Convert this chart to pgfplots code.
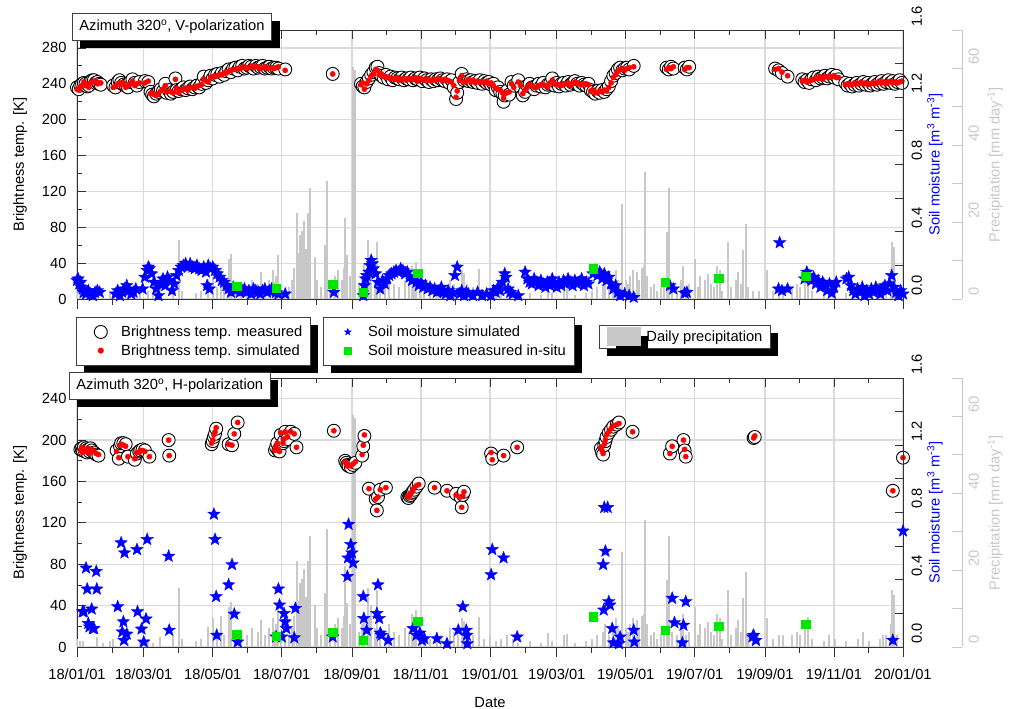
\documentclass[border=0pt]{standalone}
\usepackage{fontspec}
\setmainfont{Liberation Sans}
\usepackage{pgfplots}
\usepackage{pgfplotstable}
\pgfplotsset{compat=1.18}
\usetikzlibrary{shadows}
\definecolor{pgray}{RGB}{200,200,200}
\definecolor{ggrid}{RGB}{218,218,218}
\definecolor{mgreen}{RGB}{0,230,0}
\newcommand\fs{\fontsize{14.7}{17.6}\selectfont}
\tikzset{shad/.style={drop shadow={shadow xshift=8pt, shadow yshift=-8pt, fill=black, opacity=1, draw=none}}}
\pgfdeclareplotmark{fstar}{%
 \pgfpathmoveto{\pgfpointpolar{90}{\pgfplotmarksize}}%
 \pgfpathlineto{\pgfpointpolar{126}{0.42\pgfplotmarksize}}%
 \pgfpathlineto{\pgfpointpolar{162}{\pgfplotmarksize}}%
 \pgfpathlineto{\pgfpointpolar{198}{0.42\pgfplotmarksize}}%
 \pgfpathlineto{\pgfpointpolar{234}{\pgfplotmarksize}}%
 \pgfpathlineto{\pgfpointpolar{270}{0.42\pgfplotmarksize}}%
 \pgfpathlineto{\pgfpointpolar{306}{\pgfplotmarksize}}%
 \pgfpathlineto{\pgfpointpolar{342}{0.42\pgfplotmarksize}}%
 \pgfpathlineto{\pgfpointpolar{18}{\pgfplotmarksize}}%
 \pgfpathlineto{\pgfpointpolar{54}{0.42\pgfplotmarksize}}%
 \pgfpathclose
 \pgfusepathqfillstroke}

\pgfplotstableread{
day p
0 2
3 1.5
5 1.5
18 2.5
23 1
29 1.5
32 2
45 1
56 1.5
63 2
67 1
73 2.5
85 3
90 15.4
93 2
105 1.5
110 2
116 5.2
120 7.5
124 3
127 8
130 3
134 10.4
136 11.6
140 4
145 2
150 3
155 5
160 4
163 7
166 3
170 5
173 7.5
174 4.4
176 6
178 11.4
180 4
184 2
187 3
190 5
192 8
194 22.4
196 12
197 16.7
199 17.8
201 20.3
202 13
204 22.4
206 28.8
210 11
212 5
216 3
219 14
220 13
221 30.6
224 4
228 6
231 7.6
234 5
236 8
237 21.2
239 11.4
241 6
244 60.5
246 59.5
249 4
252 6
254 9
257 15.3
258 8
260 11
263 5
265 14.8
268 4
272 3
276 6
280 4
285 3
290 5
293 4
296 8.5
298 7.5
300 9.5
303 5
307 3
312 2
318 4
322 3
326 2
330 5
333 4
337 3
340 7.5
342 6.8
345 4
350 3
355 7.8
360 2
365 3
370 1.5
375 2
380 3
385 2
390 1
400 1.5
410 1
416 3.6
420 1.5
430 3
433 3.3
440 1
450 1.5
455 2
460 3
465 4
467 6
470 3
474 4
476 7.5
478 5
480 3
482 24.6
485 5
487 4
489 6
491 7.5
495 7
497 5
499 8
501 8.5
502 33
504 6
507 3
510 4
513 2
516 3
519 5
521 17.4
523 28.8
526 4
530 3
534 5
536 8.7
538 3
541 4
546 10.5
549 3
551 6
555 5
558 6.6
560 4
563 3
566 8.6
568 7.5
570 2
575 14.8
578 3
582 5
584 7
587 4
589 12.7
591 19.4
593 3
597 2
603 2
610 7.5
615 2
620 3
624 3
632 3
636 4
639 3
643 5
646 7.8
650 2
660 1.5
665 3
670 2
680 1.5
690 2
695 4
700 1.5
710 2
712 3
715 3
719 6
720 14.8
722 13.5
725 3
}\precip

\pgfplotstableread{
day m s
0 236 234
1.5 234 233
3 238 236
4.5 240 238
6 241 242
7.5 240 238
9 237 239
10.5 238 236
12 243 241
13.5 244 242
15 244 243
16.5 241 243
18 242 240
19.5 240 241
21 239 241
32 238 236
34 236 237
36 242 240
37.5 244 241
39 241 239
41 239 241
43 238 236
45 236 238
47 242 240
49 245 243
51 241 238
53 238 240
55 242 241
60 243 241
63 242 243
65 231 229
66.5 228 230
68 226 228
70 229 227
72 231 229
74 234 232
76 232 234
78 240 238
79 230 231
81 233 232
83 229 231
85 231 230
87 246 245
88 233 235
90 232 230
92 234 233
94 236 234
96 233 235
98 235 233
100 237 236
102 234 236
104 236 235
106 238 237
108 236 238
110 240 239
112 248 245
114 241 243
116 244 242
118 249 247
120 246 248
122 250 248
124 251 249
126 248 250
128 252 250
130 250 252
132 254 252
134 256 254
136 253 255
138 257 256
140 258 256
142 255 257
144 259 257
146 260 258
148 257 259
150 258 257
152 260 258
154 259 260
156 257 258
158 260 259
160 258 259
162 259 257
164 260 258
166 257 259
168 258 257
170 259 258
172 257 258
174 258 257
176 258 258
178 257 259
184 256 255
226 251 251
251 240 239
252.5 237 241
254 236 234
256 242 240
258 246 244
260 250 249
262 253 251
264 258 256
265.5 259 255
267 252 250
269 249 251
271 247 248
273 250 248
275 245 247
277 248 246
279 244 246
281 247 245
283 246 247
285 245 244
287 247 245
289 244 246
291 246 244
293 245 246
295 247 245
297 244 245
299 246 247
301 245 243
303 247 246
305 243 245
307 246 244
309 244 246
311 242 244
313 245 243
315 243 245
317 245 244
319 244 246
321 246 245
323 244 243
325 243 245
327 245 244
329 241 243
331 244 242
333 236 238
335 223 225
336 230 232
338 242 244
340 251 249
342 244 242
344 245 243
346 243 245
348 244 242
350 242 244
352 243 241
354 241 243
356 244 242
358 240 242
360 243 241
362 241 243
364 242 240
366 239 241
368 240 238
370 233 235
372 236 234
374 231 233
376 229 230
377 220 224
378 227 229
380 232 230
382 228 231
384 242 240
386 238 236
390 244 242
392 236 238
394 227 229
396 231 233
398 238 236
400 240 239
402 236 238
404 234 236
406 238 236
408 240 238
410 237 239
412 241 239
414 236 238
416 239 237
418 240 241
420 246 244
422 238 240
424 241 239
426 237 239
428 240 238
430 241 240
432 238 240
434 242 241
436 239 238
438 241 240
440 243 242
442 240 241
444 238 240
446 241 239
448 239 240
450 238 240
452 240 239
454 233 232
456 231 233
458 229 230
460 232 230
462 230 232
464 233 231
466 231 233
468 234 232
470 237 236
472 243 241
474 249 247
476 252 250
478 256 254
480 258 256
482 255 257
484 257 255
486 258 257
488 256 258
492 260 259
521 258 256
523 256 258
525 259 257
527 257 259
537 258 256
539 256 258
541 259 258
617 257 256
620 255 257
623 252 253
628 248 249
641 245 243
643 242 244
645 244 242
647 241 243
649 245 244
651 247 245
653 244 246
655 248 246
657 246 248
659 247 245
661 249 248
663 246 248
665 248 247
667 250 248
669 247 249
671 249 247
673 245 247
679 241 239
681 238 240
683 240 239
685 237 239
687 239 241
689 241 240
691 238 240
693 240 242
695 242 240
697 239 241
699 241 239
701 238 240
703 240 241
705 242 240
707 239 241
709 241 243
711 243 241
713 240 242
715 242 240
717 244 242
719 241 243
721 243 241
723 240 242
725 242 241
727 244 242
729 241 243
}\btV

\pgfplotstableread{
day sm
0 0.11
1 0.12
2 0.09
3 0.10
4 0.07
5 0.06
6 0.04
7 0.05
8 0.03
10 0.05
12 0.03
14 0.02
16 0.04
18 0.05
20 0.04
34 0.03
36 0.05
38 0.02
40 0.04
42 0.06
44 0.08
46 0.05
48 0.03
50 0.04
52 0.06
58 0.06
60 0.13
62 0.17
63 0.19
64 0.18
66 0.15
68 0.10
70 0.06
72 0.02
74 0.09
76 0.12
78 0.08
80 0.13
82 0.11
84 0.05
86 0.09
88 0.14
90 0.17
92 0.19
94 0.20
96 0.21
98 0.19
100 0.21
102 0.19
104 0.18
106 0.20
108 0.18
110 0.17
112 0.19
114 0.16
115 0.08
116 0.20
117 0.06
118 0.18
120 0.19
122 0.17
124 0.15
126 0.13
128 0.11
130 0.10
132 0.08
134 0.06
136 0.04
138 0.07
140 0.05
142 0.06
144 0.04
146 0.05
148 0.06
150 0.04
152 0.05
154 0.03
156 0.06
158 0.05
160 0.04
162 0.03
164 0.05
166 0.06
168 0.04
170 0.05
172 0.06
174 0.05
176 0.04
178 0.03
184 0.03
227 0.04
253 0.02
254 0.08
255 0.12
256 0.14
258 0.16
259 0.20
260 0.23
261 0.21
262 0.18
264 0.15
266 0.10
268 0.06
270 0.11
272 0.09
274 0.12
276 0.14
278 0.15
280 0.16
282 0.17
284 0.16
286 0.18
288 0.17
290 0.15
292 0.16
294 0.13
296 0.11
298 0.12
300 0.10
302 0.08
304 0.10
306 0.07
308 0.08
310 0.06
312 0.07
314 0.05
316 0.06
318 0.04
320 0.05
322 0.07
324 0.04
326 0.03
328 0.05
330 0.02
332 0.04
334 0.14
336 0.19
338 0.03
340 0.05
342 0.02
344 0.04
346 0.03
350 0.02
354 0.04
358 0.02
362 0.03
366 0.02
368 0.05
370 0.04
372 0.07
374 0.05
376 0.10
378 0.15
379 0.13
381 0.06
383 0.04
385 0.03
390 0.02
396 0.16
398 0.12
400 0.10
402 0.09
404 0.12
406 0.10
408 0.08
410 0.11
412 0.09
414 0.07
416 0.10
418 0.08
420 0.12
422 0.09
424 0.07
426 0.10
428 0.08
430 0.11
432 0.09
434 0.12
436 0.10
438 0.08
440 0.11
442 0.09
444 0.10
446 0.12
448 0.08
450 0.10
452 0.09
456 0.15
458 0.17
460 0.14
462 0.16
464 0.12
466 0.15
468 0.11
470 0.13
472 0.09
474 0.06
476 0.08
478 0.04
480 0.02
484 0.03
488 0.02
492 0.01
524 0.08
527 0.06
537 0.035
539 0.04
620 0.06
621 0.335
623 0.05
628 0.06
643 0.12
645 0.16
647 0.14
649 0.11
651 0.13
653 0.09
655 0.11
657 0.07
659 0.10
661 0.08
663 0.05
665 0.09
667 0.035
669 0.07
671 0.10
680 0.12
682 0.13
684 0.08
686 0.05
688 0.03
690 0.06
692 0.04
694 0.07
696 0.02
698 0.05
700 0.03
702 0.06
704 0.04
706 0.07
708 0.05
710 0.03
712 0.06
714 0.08
716 0.05
718 0.09
720 0.14
722 0.07
724 0.04
726 0.02
728 0.05
730 0.03
}\smV

\pgfplotstableread{
day ins
141 0.077
176 0.065
226 0.088
253 0.042
301 0.155
456 0.18
520 0.10
567 0.122
644 0.137
}\insitu

\pgfplotstableread{
day m s
3 191 190
4 192 193
5 190 188
6 193 191
7 189 191
8 192 190
9 188 189
10 191 192
11 189 187
12 192 190
13 190 191
15 188 189
17 186 187
19 185 186
35 190 189
37 182 183
38 194 195
39 197 196
41 197 195
43 196 194
45 184 184
51 181 182
53 187 188
55 189 188
56 190 190
58 191 190
60 190 189
64 184 184
81 200 200
81.5 185 185
119 196 197
120 199 200
121 203 205
122 206 208
123 211 212
134 196 196
137 195 195
139 206 206
142 217 217
175 190 190
176 193 195
177 197 197
178 190 191
179 189 189
180 205 207
182 197 197
183 199 201
184 208 208
186 201 203
189 208 208
192 206 206
194 193 193
227 209 209
237 180 179
238 178 176
239 176 175
240 175 176
242 174 175
244 176 177
246 178 179
252 185 186
253 194 195
254 204 205
258 153 153
264 143 143
265 132 132
266 145 145
268 152 152
273 154 154
292 145 146
293 144 145
294 146 147
295 147 148
296 149 150
297 150 152
298 152 154
300 155 156
302 158 157
316 154 154
327 151 151
335 148 147
339 145 145
340 135 135
341 147 146
342 150 150
366 187 188
367 182 181
377 185 185
389 193 193
463 192 193
464 188 190
465 186 187
466 195 196
467 199 200
468 203 205
470 207 208
472 210 211
474 213 214
477 215 215
479 217 216
491 208 208
524 187 187
526 194 194
536 200 200
537 190 191
538 184 184
598 202 202
599 203 204
721 151 151
730 183 183
}\btH

\pgfplotstableread{
day sm
5 0.21
6 0.21
8 0.47
9 0.345
10 0.14
11 0.12
13 0.226
14 0.11
15 0.11
17 0.45
17.5 0.345
36 0.24
39 0.62
40 0.09
41 0.15
41.5 0.04
42 0.56
44 0.077
53 0.58
53.5 0.21
57 0.107
59 0.03
61 0.167
62 0.64
81 0.54
81.5 0.10
121 0.79
122 0.64
123 0.30
123.5 0.07
134 0.37
137 0.49
139 0.196
142 0.03
176 0.06
178 0.345
179 0.25
181 0.06
183 0.20
184 0.15
185 0.11
192 0.055
193 0.23
226 0.06
239 0.42
239.5 0.53
240 0.73
242 0.61
243 0.56
244 0.50
253 0.30
253.5 0.17
256 0.10
265 0.20
266 0.37
267 0.17
268 0.083
269 0.07
275 0.04
297 0.11
300 0.07
303 0.083
305 0.04
307 0.05
318 0.05
327 0.02
337 0.10
341 0.24
344 0.10
344.5 0.07
345 0.02
366 0.43
367 0.58
377 0.53
389 0.06
465 0.49
465.5 0.22
466 0.83
467 0.57
469 0.83
470 0.27
471 0.25
473 0.11
474 0.025
479 0.02
480 0.06
492 0.10
492.5 0.03
526 0.29
528 0.145
535 0.025
536 0.13
538 0.27
597 0.06
598 0.07
600 0.04
721 0.04
730 0.69
}\smH

\pgfplotsset{
 panel/.style={scale only axis, width=826pt, height=269pt, xmin=0, xmax=730,
   anchor=south west, font=\fs, /pgf/number format/assume math mode=true,
   axis line style={line width=0.8pt, draw=black!80},
   tick style={line width=0.8pt, black!80}},
 majx/.style={xtick={0,59,120,181,243,304,365,424,485,546,608,669,730},
   minor xtick={31,90,151,212,273,334,396,455,516,577,638,699}},
 legbox/.style={legend style={draw=black!75, line width=0.8pt, fill=white, font=\fs, shad,
   inner xsep=6pt, inner ysep=6.5pt, row sep=2.5pt}, legend cell align=left,
   legend image code/.code={\path (0pt,0pt) (36pt,0pt);
     \draw[mark repeat=2,mark phase=2,##1] plot coordinates {(0pt,0pt) (18pt,0pt) (36pt,0pt)};}},
 gridax/.style={panel, majx, xtick pos=top, xticklabels={}, ytick pos=left,
   tick align=inside, major tick length=9pt, minor tick length=5pt,
   grid=major, major grid style={ggrid, line width=1.2pt},
   yticklabel style={xshift=-7pt},
   every axis y label/.style={at={(axis description cs:-0.069,0.5)}, rotate=90, anchor=center},
   ylabel={Brightness temp. [K]}},
 botx/.style={panel, majx, ymin=0, ymax=1, axis y line=none, axis x line*=bottom,
   tick align=outside, major tick length=10pt, minor tick length=6pt,
   xticklabel style={yshift=-8pt}},
 precax/.style={panel, ymin=0, ymax=70, axis x line=none, axis y line*=right,
   ytick={0,20,40,60}, minor ytick={10,30,50,70}, tick align=inside,
   major tick length=10pt, minor tick length=10pt,
   axis line style={pgray, line width=0.8pt}, tick style={pgray, line width=0.8pt},
   yticklabel style={pgray, xshift=3pt, rotate=90, anchor=north west},
   every axis y label/.style={at={(axis description cs:1.04,0.5)}, rotate=90, anchor=center, pgray},
   ylabel={Precipitation [mm day\textsuperscript{-1}]}},
 soilax/.style={panel, ymin=0, ymax=1.6, axis x line=none, axis y line*=right,
   ytick={0,0.4,0.8,1.2,1.6}, minor ytick={0.2,0.6,1.0,1.4}, tick align=inside,
   major tick length=8pt, minor tick length=8pt,
   yticklabel style={xshift=5pt, rotate=90, anchor=north west, /pgf/number format/.cd, fixed, fixed zerofill, precision=1},
   every axis y label/.style={at={(axis description cs:1.0387,0.5)}, rotate=90, anchor=center, blue},
   ylabel={Soil moisture [m\textsuperscript{3} m\textsuperscript{-3}]}},
 circ/.style={only marks, mark=*, mark size=6.5pt, mark options={fill=white, draw=black, line width=0.9pt}},
 rdot/.style={only marks, mark=*, mark size=2.6pt, color=red},
 bstar/.style={only marks, mark=fstar, mark size=6.5pt, color=blue, mark options={line width=0.4pt}},
 gsq/.style={only marks, mark=square*, mark size=4.2pt, color=mgreen},
 bars/.style={ycomb, color=pgray, line width=2pt, mark=none},
}

\begin{document}
\begin{tikzpicture}
\useasboundingbox (0,0) rectangle (1015pt,-709pt);
% ================= TOP PANEL =================
\begin{axis}[gridax, at={(77pt,-299pt)}, ymin=0, ymax=300,
  ytick={0,40,...,280}, minor ytick={20,60,...,260}]
\end{axis}
\begin{axis}[botx, at={(77pt,-299pt)}, xticklabels={}]
\end{axis}
\begin{axis}[panel, at={(77pt,-299pt)}, ymin=0, ymax=70, hide axis, legbox,
  legend style={at={(0.632,0)}, anchor=north west, yshift=-26pt, inner ysep=2pt}]
\addplot[bars, legend image code/.code={\path (0pt,0pt) (37pt,0pt); \fill[pgray] (2pt,-8.5pt) rectangle (34pt,8.5pt);}]
  table[x=day,y=p]{\precip};
\addlegendentry{Daily precipitation}
\end{axis}
\begin{axis}[precax, at={(136pt,-299pt)}]
\end{axis}
\begin{axis}[panel, at={(77pt,-299pt)}, ymin=0, ymax=300, hide axis, legbox,
  legend style={at={(0,0)}, anchor=north west, xshift=-1pt, yshift=-18pt}]
\addplot[circ] table[x=day,y=m]{\btV};
\addlegendentry{Brightness temp. measured}
\addplot[rdot] table[x=day,y=s]{\btV};
\addlegendentry{Brightness temp. simulated}
\end{axis}
\begin{axis}[soilax, at={(77pt,-299pt)}, legbox,
  legend image post style={mark size=3.5pt},
  legend style={at={(0.2978,0)}, anchor=north west, yshift=-18pt}]
\addplot[bstar] table[x=day,y=sm]{\smV};
\addlegendentry{Soil moisture simulated}
\addplot[gsq] table[x=day,y=ins]{\insitu};
\addlegendentry{Soil moisture measured in-situ}
\end{axis}
% ================= BOTTOM PANEL =================
\begin{axis}[gridax, at={(77pt,-647pt)}, ymin=0, ymax=260,
  ytick={0,40,...,240}, minor ytick={20,60,...,220}]
\end{axis}
\begin{axis}[botx, at={(77pt,-647pt)},
  xticklabels={18/01/01,18/03/01,18/05/01,18/07/01,18/09/01,18/11/01,19/01/01,19/03/01,19/05/01,19/07/01,19/09/01,19/11/01,20/01/01},
  xlabel={Date}, every axis x label/.style={at={(axis description cs:0.5,-0.2045)}, anchor=center}]
\end{axis}
\begin{axis}[panel, at={(77pt,-647pt)}, ymin=0, ymax=70, hide axis]
\addplot[bars] table[x=day,y=p]{\precip};
\end{axis}
\begin{axis}[precax, at={(136pt,-647pt)}]
\end{axis}
\begin{axis}[panel, at={(77pt,-647pt)}, ymin=0, ymax=260, hide axis]
\addplot[circ] table[x=day,y=m]{\btH};
\addplot[rdot] table[x=day,y=s]{\btH};
\end{axis}
\begin{axis}[soilax, at={(77pt,-647pt)}]
\addplot[bstar] table[x=day,y=sm]{\smH};
\addplot[gsq] table[x=day,y=ins]{\insitu};
\end{axis}
% ================= TITLES =================
\node[draw=black!75, line width=0.8pt, fill=white, anchor=north west, font=\fs,
  minimum height=27pt, inner xsep=7pt, shad] at (72pt,-13pt)
  {Azimuth 320\textsuperscript{o}, V-polarization};
\node[draw=black!75, line width=0.8pt, fill=white, anchor=north west, font=\fs,
  minimum height=27pt, inner xsep=7pt, shad] at (69pt,-372pt)
  {Azimuth 320\textsuperscript{o}, H-polarization};
\end{tikzpicture}
\end{document}
